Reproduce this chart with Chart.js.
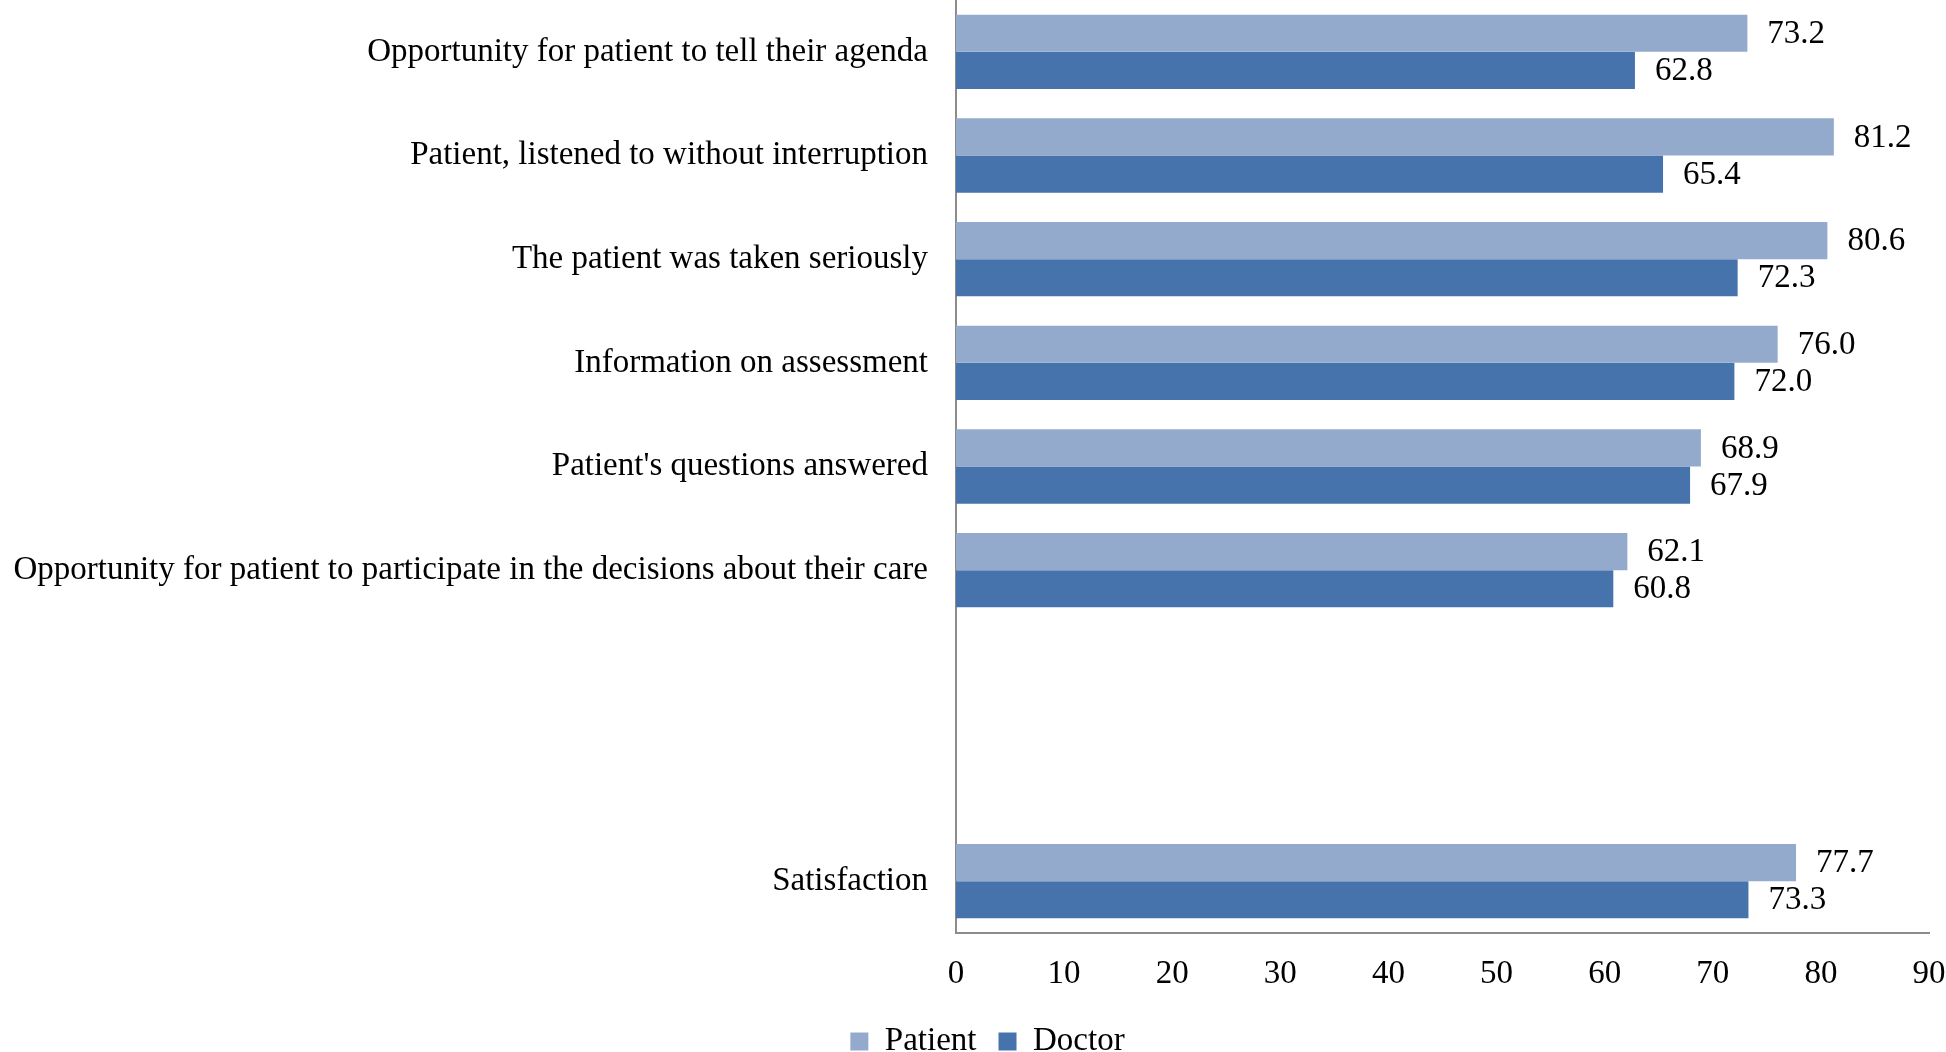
<!DOCTYPE html>
<html><head><meta charset="utf-8">
<script src="https://cdn.jsdelivr.net/npm/chart.js@4/dist/chart.umd.min.js"></script>
<style>html,body{margin:0;padding:0;background:#fff}#wrap{width:1946px;height:1052px}</style>
</head><body><div id="wrap"><canvas id="c" width="1946" height="1052"></canvas></div>
<script>
const categories = [
  "Opportunity for patient to tell their agenda",
  "Patient, listened to without interruption",
  "The patient was taken seriously",
  "Information on assessment",
  "Patient's questions answered",
  "Opportunity for patient to participate in the decisions about their care",
  "",
  " ",
  "Satisfaction"
];
const patientValues = [73.2, 81.2, 80.6, 76.0, 68.9, 62.1, null, null, 77.7];
const doctorValues  = [62.8, 65.4, 72.3, 72.0, 67.9, 60.8, null, null, 73.3];
const seriesNames = ["Patient", "Doctor"];
const xTicks = [0, 10, 20, 30, 40, 50, 60, 70, 80, 90];

const FONT = "'Liberation Serif', 'Times New Roman', serif";

const valueLabels = {
  id: 'valueLabels',
  afterDatasetsDraw(chart) {
    const ctx = chart.ctx;
    ctx.save();
    ctx.font = "33px " + FONT;
    ctx.fillStyle = "#000";
    ctx.textAlign = "left";
    ctx.textBaseline = "middle";
    chart.data.datasets.forEach((ds, di) => {
      const meta = chart.getDatasetMeta(di);
      meta.data.forEach((bar, i) => {
        const v = ds.data[i];
        if (v === null || v === undefined) return;
        ctx.fillText(v.toFixed(1), bar.x + 20, bar.y + 1);
      });
    });
    ctx.restore();
  }
};

const legendShift = {
  id: 'legendShift',
  afterLayout(chart) {
    if (chart.legend) { chart.legend.left += 23; chart.legend.right += 23; }
  }
};

new Chart(document.getElementById('c'), {
  type: 'bar',
  data: {
    labels: categories,
    datasets: [
      { label: seriesNames[0], data: patientValues, backgroundColor: '#94aacd', borderWidth: 0 },
      { label: seriesNames[1], data: doctorValues, backgroundColor: '#4673ab', borderWidth: 0 }
    ]
  },
  options: {
    indexAxis: 'y',
    responsive: false,
    animation: false,
    devicePixelRatio: 1,
    categoryPercentage: 0.717,
    barPercentage: 1.0,
    layout: { padding: { left: 0, right: 17, top: 0, bottom: -16 } },
    scales: {
      y: {
        grid: { display: false },
        border: { display: true, color: '#8c8c8c', width: 2 },
        ticks: { color: '#000', font: { family: FONT, size: 33 }, padding: 20, autoSkip: false },
        afterFit(s) { s.width = 956; s.paddingTop = 0; s.paddingBottom = 0; }
      },
      x: {
        min: 0, max: 90,
        grid: { display: false },
        border: { display: true, color: '#8c8c8c', width: 2 },
        afterBuildTicks(s) { s.ticks = xTicks.map(v => ({ value: v })); },
        ticks: { color: '#000', font: { family: FONT, size: 33 }, padding: 14, maxRotation: 0 },
        afterFit(s) { s.height = 70; s.paddingLeft = 0; s.paddingRight = 0; }
      }
    },
    plugins: {
      legend: {
        position: 'bottom',
        labels: { color: '#000', font: { family: FONT, size: 33 }, boxWidth: 18, boxHeight: 18, padding: 22 }
      },
      tooltip: { enabled: false }
    }
  },
  plugins: [valueLabels, legendShift]
});
</script>
</body></html>
